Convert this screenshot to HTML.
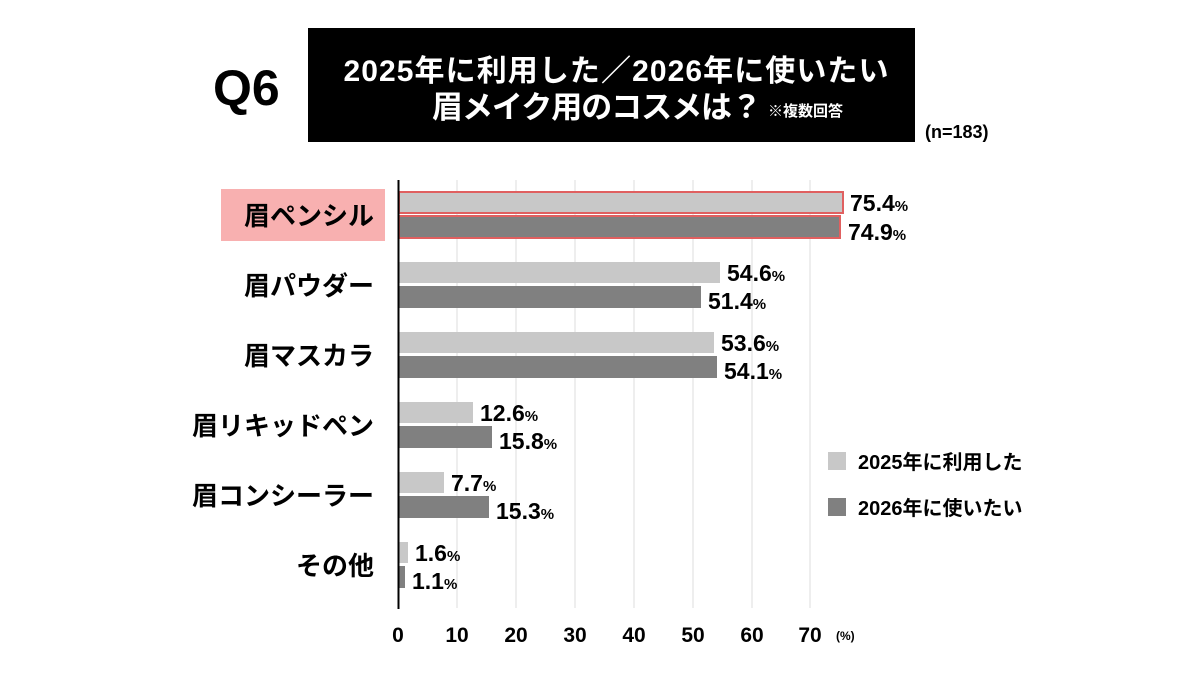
<!DOCTYPE html>
<html><head><meta charset="utf-8"><style>
body{margin:0;background:#fff;width:1200px;height:675px;overflow:hidden}
text{font-family:"Liberation Sans","Noto Sans CJK JP",sans-serif;font-weight:bold}
</style></head><body>
<svg width="1200" height="675" xmlns="http://www.w3.org/2000/svg">
<rect x="308" y="28" width="607" height="114" fill="#000"/>
<text x="213" y="105" font-size="50" fill="#000">Q6</text>
<text x="616" y="81" font-size="30" fill="#fff" text-anchor="middle" textLength="545">2025年に利用した／2026年に使いたい</text>
<text x="432" y="118" font-size="31" fill="#fff" textLength="330">眉メイク用のコスメは？</text>
<text x="768" y="116" font-size="15" fill="#fff">※複数回答</text>
<text x="925" y="138" font-size="18" fill="#000">(n=183)</text>
<g stroke="#ddd" stroke-width="1">
<line x1="457" y1="180" x2="457" y2="608"/><line x1="516" y1="180" x2="516" y2="608"/>
<line x1="575" y1="180" x2="575" y2="608"/><line x1="634" y1="180" x2="634" y2="608"/>
<line x1="693" y1="180" x2="693" y2="608"/><line x1="752" y1="180" x2="752" y2="608"/>
<line x1="810" y1="180" x2="810" y2="608"/>
</g>
<rect x="221" y="189" width="164" height="52" fill="#f8b0b0"/>
<g fill="#c8c8c8">
<rect x="399" y="192" width="444" height="21" stroke="#e06060" stroke-width="2"/>
<rect x="399" y="262" width="321" height="21"/>
<rect x="399" y="332" width="315" height="21"/>
<rect x="399" y="402" width="74" height="21"/>
<rect x="399" y="472" width="45" height="21"/>
<rect x="399" y="542" width="9" height="21"/>
</g>
<g fill="#808080">
<rect x="399" y="216" width="441" height="22" stroke="#e06060" stroke-width="2"/>
<rect x="399" y="286" width="302" height="22"/>
<rect x="399" y="356" width="318" height="22"/>
<rect x="399" y="426" width="93" height="22"/>
<rect x="399" y="496" width="90" height="22"/>
<rect x="399" y="566" width="6" height="22"/>
</g>
<line x1="398.5" y1="180" x2="398.5" y2="609" stroke="#000" stroke-width="2"/>
<g font-size="23" fill="#000">
<text x="850" y="211">75.4<tspan font-size="15">%</tspan></text>
<text x="848" y="240">74.9<tspan font-size="15">%</tspan></text>
<text x="727" y="281">54.6<tspan font-size="15">%</tspan></text>
<text x="708" y="309">51.4<tspan font-size="15">%</tspan></text>
<text x="721" y="351">53.6<tspan font-size="15">%</tspan></text>
<text x="724" y="379">54.1<tspan font-size="15">%</tspan></text>
<text x="480" y="421">12.6<tspan font-size="15">%</tspan></text>
<text x="499" y="449">15.8<tspan font-size="15">%</tspan></text>
<text x="451" y="491">7.7<tspan font-size="15">%</tspan></text>
<text x="496" y="519">15.3<tspan font-size="15">%</tspan></text>
<text x="415" y="561">1.6<tspan font-size="15">%</tspan></text>
<text x="412" y="589">1.1<tspan font-size="15">%</tspan></text>
</g>
<g font-size="26" fill="#000" text-anchor="end">
<text x="374" y="225">眉ペンシル</text>
<text x="374" y="295">眉パウダー</text>
<text x="374" y="365">眉マスカラ</text>
<text x="374" y="435">眉リキッドペン</text>
<text x="374" y="505">眉コンシーラー</text>
<text x="374" y="575">その他</text>
</g>
<g font-size="21" fill="#000" text-anchor="middle">
<text x="398" y="642">0</text><text x="457" y="642">10</text><text x="516" y="642">20</text>
<text x="575" y="642">30</text><text x="634" y="642">40</text><text x="693" y="642">50</text>
<text x="752" y="642">60</text><text x="810" y="642">70</text>
</g>
<text x="836" y="640" font-size="12">(%)</text>
<rect x="828" y="452" width="18" height="18" fill="#c8c8c8"/>
<text x="858" y="469" font-size="20">2025年に利用した</text>
<rect x="828" y="498" width="18" height="18" fill="#808080"/>
<text x="858" y="515" font-size="20">2026年に使いたい</text>
</svg>
</body></html>
